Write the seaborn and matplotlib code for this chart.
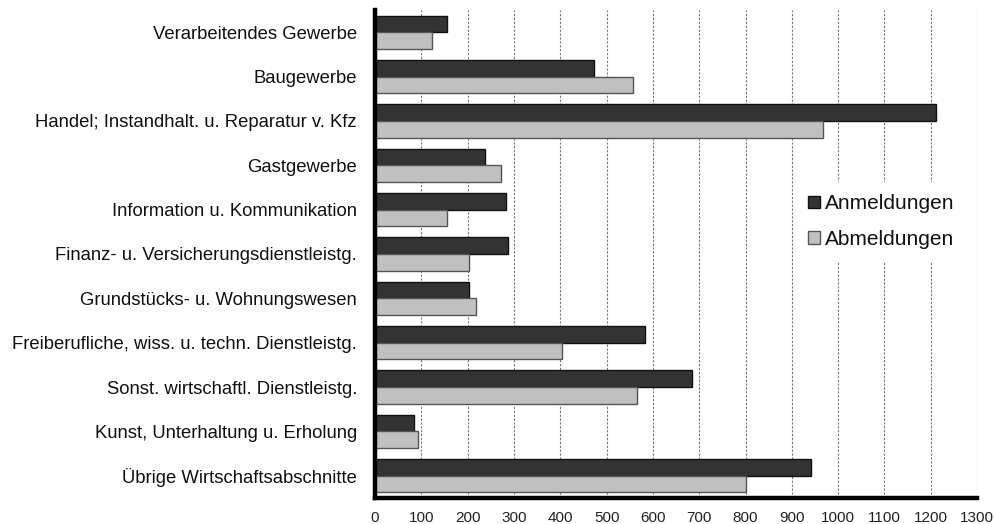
import matplotlib
matplotlib.use("Agg")
import matplotlib.pyplot as plt
import seaborn as sns
import pandas as pd

categories = [
    "Verarbeitendes Gewerbe",
    "Baugewerbe",
    "Handel; Instandhalt. u. Reparatur v. Kfz",
    "Gastgewerbe",
    "Information u. Kommunikation",
    "Finanz- u. Versicherungsdienstleistg.",
    "Grundstücks- u. Wohnungswesen",
    "Freiberufliche, wiss. u. techn. Dienstleistg.",
    "Sonst. wirtschaftl. Dienstleistg.",
    "Kunst, Unterhaltung u. Erholung",
    "Übrige Wirtschaftsabschnitte",
]
anmeldungen = [155, 473, 1212, 237, 283, 287, 202, 582, 684, 84, 941]
abmeldungen = [123, 556, 968, 271, 156, 203, 217, 404, 565, 92, 800]
series = ["Anmeldungen", "Abmeldungen"]
xticks = list(range(0, 1301, 100))

df = pd.DataFrame({
    "Kategorie": categories * 2,
    "Wert": anmeldungen + abmeldungen,
    "Serie": [series[0]] * len(categories) + [series[1]] * len(categories),
})

sns.set_theme(style="white")
plt.rcParams["font.family"] = ["Liberation Sans", "DejaVu Sans"]

fig = plt.figure(figsize=(9.95, 5.24), dpi=100)
ax = fig.add_axes([0.377, 0.0496, 0.605, 0.9314])

palette = {"Anmeldungen": "#333333", "Abmeldungen": "#c0c0c0"}
sns.barplot(data=df, y="Kategorie", x="Wert", hue="Serie", hue_order=series,
            order=categories, palette=palette, orient="h", width=0.75,
            saturation=1, ax=ax, zorder=3)

for patch in ax.patches:
    fc = patch.get_facecolor()
    if fc[0] < 0.5:
        patch.set_edgecolor("#111111")
    else:
        patch.set_edgecolor("#555555")
    patch.set_linewidth(1.0)

ax.set_xlim(0, 1300)
ax.set_ylim(len(categories) - 0.5, -0.5)
ax.set_xticks(xticks)
ax.set_xticklabels([str(t) for t in xticks], fontsize=11, color="#222222")
ax.set_xlabel("")
ax.set_ylabel("")
ax.tick_params(axis="y", length=0, pad=13, labelsize=13.3, labelcolor="#111111")
ax.tick_params(axis="x", length=3, width=2, color="black", direction="out", pad=6)

for x in xticks[1:]:
    ax.axvline(x, color="#777777", linewidth=0.8, linestyle=(0, (2, 1.5)), zorder=1)

for side in ["top", "right"]:
    ax.spines[side].set_visible(False)
for side in ["left", "bottom"]:
    ax.spines[side].set_linewidth(3.2)
    ax.spines[side].set_color("black")
    ax.spines[side].set_zorder(5)

handles, labels = ax.get_legend_handles_labels()
leg = ax.legend(handles, labels, loc="center left", bbox_to_anchor=(0.699, 0.566),
                frameon=True, facecolor="white", edgecolor="none", framealpha=1,
                fancybox=False, fontsize=15, handlelength=0.55, handleheight=0.55,
                handletextpad=0.25, labelspacing=0.8, borderpad=0.6, borderaxespad=0)
for h in leg.legend_handles:
    h.set_linewidth(1.0)
for t in leg.get_texts():
    t.set_color("#111111")

fig.savefig("out.png", dpi=100)
